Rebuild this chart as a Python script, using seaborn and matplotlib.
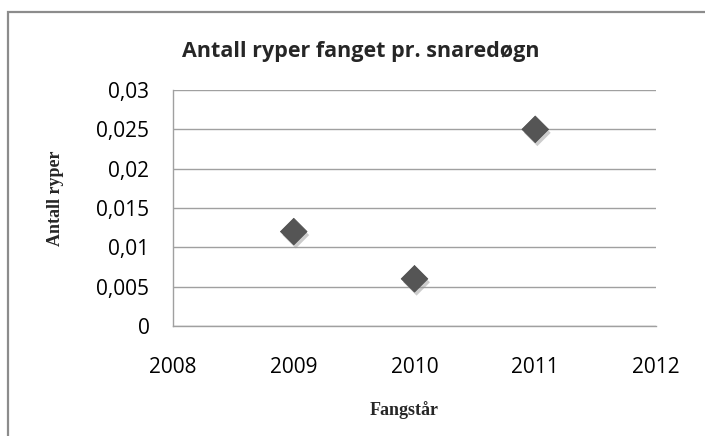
import pandas as pd
import matplotlib
import matplotlib.pyplot as plt
import matplotlib.patheffects as pe
import seaborn as sns

years = [2009, 2010, 2011]
ryper = [0.012, 0.006, 0.025]
x_ticks = [2008, 2009, 2010, 2011, 2012]
y_ticks = [0, 0.005, 0.01, 0.015, 0.02, 0.025, 0.03]
y_ticklabels = ['0', '0,005', '0,01', '0,015', '0,02', '0,025', '0,03']

df = pd.DataFrame({'year': years, 'ryper': ryper})

sns.set_style('white')
plt.rcParams['font.family'] = ['Open Sans', 'DejaVu Sans']

fig = plt.figure(figsize=(7.05, 4.36), dpi=100)
ax = fig.add_axes([173 / 705, 1 - 326 / 436, 483 / 705, 236 / 436])

# outer chart border (excel style)
fig.patches.append(matplotlib.patches.Rectangle((8 / 705, -0.05), 1.1, 1.05 - 12 / 436,
                                                transform=fig.transFigure, fill=False,
                                                edgecolor='#8c8c8c', linewidth=1.6))

sns.scatterplot(x='year', y='ryper', data=df, marker='D', s=185, color='#555555',
                edgecolor='#4a4a4a', linewidth=0.5, ax=ax, zorder=3,
                path_effects=[pe.SimplePatchShadow(offset=(1.5, -2.5), shadow_rgbFace='#9a9a9a', alpha=0.5),
                              pe.Normal()])

ax.set_xlim(2008, 2012)
ax.set_ylim(0, 0.03)
ax.set_xticks(x_ticks)
ax.set_yticks(y_ticks)
ax.set_yticklabels(y_ticklabels)
ax.yaxis.grid(True, color='#a0a0a0', linewidth=1)
ax.xaxis.grid(False)
ax.tick_params(axis='both', labelsize=15, colors='black', length=0)
ax.tick_params(axis='x', pad=22)
ax.tick_params(axis='y', pad=17)
for s in ['top', 'right']:
    ax.spines[s].set_visible(False)
for s in ['left', 'bottom']:
    ax.spines[s].set_color('#a0a0a0')
    ax.spines[s].set_linewidth(1)

fig.text(361 / 705, 1 - 51 / 436, 'Antall ryper fanget pr. snaredøgn', fontsize=15.5,
         fontweight='bold', ha='center', va='center')
ax.set_xlabel('Fangstår', fontsize=13, fontweight='bold', family='Liberation Serif')
ax.set_ylabel('Antall ryper', fontsize=13, fontweight='bold', family='Liberation Serif')
ax.xaxis.set_label_coords((404 - 173) / 483, -(410 - 326) / 236)
ax.yaxis.set_label_coords((56 - 173) / 483, (326 - 198) / 236)
ax.xaxis.label.set_va('center')
ax.yaxis.label.set_va('center')

plt.savefig('out.png', dpi=100)
